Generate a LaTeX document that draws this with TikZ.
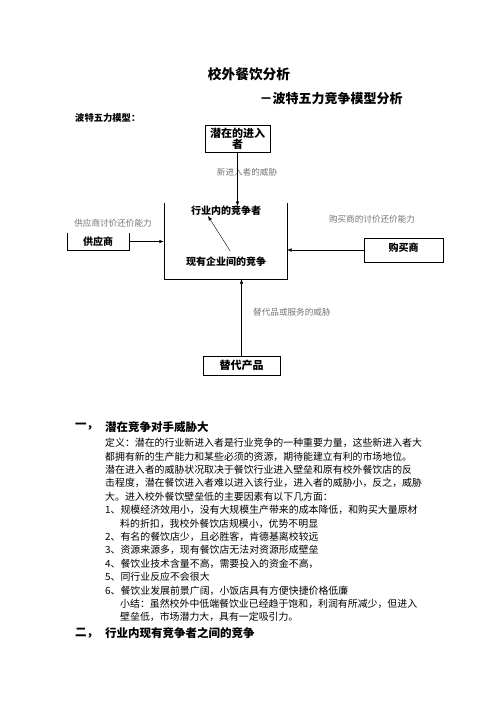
\documentclass[tikz,border=0pt]{standalone}
\usepackage{fontspec}
\usepackage{tikz}
\usetikzlibrary{arrows.meta}
\newfontfamily\cjk{Noto Sans CJK SC}

\begin{document}
\begin{tikzpicture}
  [x=1pt,y=-1pt,every node/.style={font=\cjk,inner sep=0pt},
   hd/.style={font=\cjk\bfseries\fontsize{#1}{#1}\selectfont},
   body/.style={anchor=west,font=\cjk\fontsize{9.9}{12}\selectfont},
   note/.style={text=black!55,font=\cjk\fontsize{8.6}{10}\selectfont},
   arr/.style={-{Latex[length=4.5pt,width=3.5pt]}}]
  \useasboundingbox (0,0) rectangle (496,702);

  % titles
  \node[hd=13.7] (title) at (249,74) {校外餐饮分析};
  \node[hd=13] (subtitle) at (331,99) {－波特五力竞争模型分析};
  \node[hd=9.3,anchor=west] (model) at (75,118) {波特五力模型：};

  % five forces
  \node[hd=11,draw,minimum width=65,minimum height=27,align=center] (entrant) at (237.5,138.5) {潜在的进入\\者};
  \node[minimum width=123,minimum height=76] (frame) at (225.5,241) {};
  \draw (frame.north west) |- (frame.south east) -- (frame.north east);
  \node[hd=10] (rival) at (226,211) {行业内的竞争者};
  \node[hd=10] (existing) at (226,262) {现有企业间的竞争};
  \node[hd=10,minimum width=62,minimum height=17] (supplier) at (98,241.5) {供应商};
  \draw (supplier.north west) |- (supplier.south east) -- (supplier.north east);
  \node[hd=10,draw,minimum width=79,minimum height=24,text depth=6pt] (buyer) at (403.5,250) {购买商};
  \node[hd=11,draw,minimum width=77,minimum height=19] (subst) at (241.5,365.5) {替代产品};

  \node[note] (n1) at (247,172) {新进入者的威胁};
  \node[note] (n2) at (113,223) {供应商讨价还价能力};
  \node[note] (n3) at (372,219) {购买商的讨价还价能力};
  \node[note,anchor=west] (n4) at (253,312) {替代品或服务的威胁};

  \draw[arr] (entrant.south) -- (entrant.south |- rival.north);
  \draw[arr] (supplier.east) -- (frame.west |- supplier.east);
  \draw[arr] (buyer.west) -- (frame.east |- buyer.west);
  \draw[arr] (subst.north) -- (subst.north |- frame.south);
  \draw[arr,shorten <=7pt] ([xshift=8pt]existing.north) -- ([xshift=-18pt]rival.south);

  % text below
  \node[hd=11.5,anchor=west] (h1) at (75,427) {一，};
  \node[hd=11.5,anchor=west] (h1t) at (105,427) {潜在竞争对手威胁大};
  \foreach \x/\t [count=\i] in {
    105/定义：潜在的行业新进入者是行业竞争的一种重要力量，这些新进入者大,
    105/都拥有新的生产能力和某些必须的资源，期待能建立有利的市场地位。,
    105/潜在进入者的威胁状况取决于餐饮行业进入壁垒和原有校外餐饮店的反,
    105/击程度，潜在餐饮进入者难以进入该行业，进入者的威胁小，反之，威胁,
    105/大。进入校外餐饮壁垒低的主要因素有以下几方面：,
    105/1、规模经济效用小，没有大规模生产带来的成本降低，和购买大量原材,
    120/料的折扣，我校外餐饮店规模小，优势不明显,
    105/2、有名的餐饮店少，且必胜客，肯德基离校较远,
    105/3、资源来源多，现有餐饮店无法对资源形成壁垒,
    105/4、餐饮业技术含量不高，需要投入的资金不高，,
    105/5、同行业反应不会很大,
    105/6、餐饮业发展前景广阔，小饭店具有方便快捷价格低廉,
    120/小结：虽然校外中低端餐饮业已经趋于饱和，利润有所减少，但进入,
    120/壁垒低，市场潜力大，具有一定吸引力。}
    \node[body] (line\i) at (\x,{443+13.4*(\i-1)}) {\t};
  \node[hd=11.5,anchor=west] (h2) at (75,633) {二，};
  \node[hd=11.5,anchor=west] (h2t) at (105,633) {行业内现有竞争者之间的竞争};
\end{tikzpicture}
\end{document}
